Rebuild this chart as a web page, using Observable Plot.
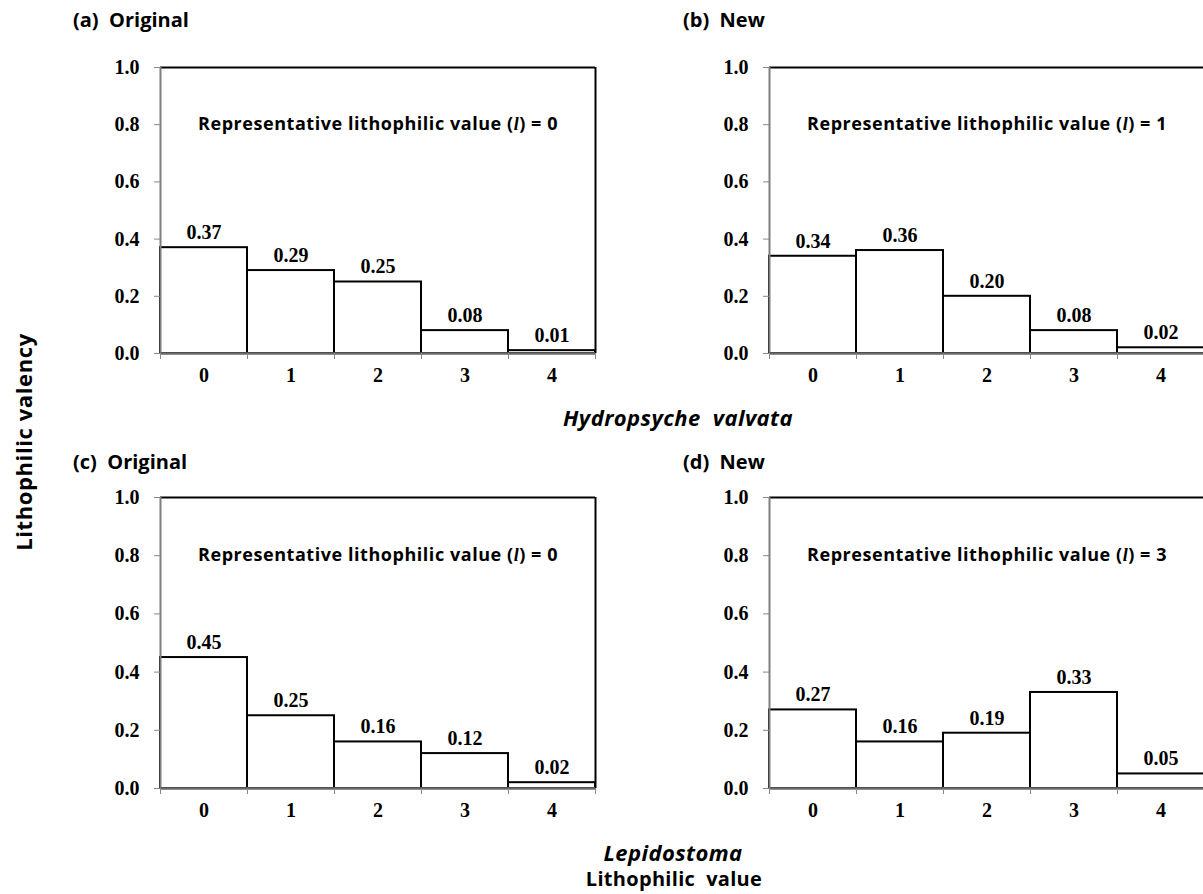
<!DOCTYPE html>
<html>
<head>
<meta charset="utf-8">
<script src="https://cdn.jsdelivr.net/npm/d3@7"></script>
<script src="https://cdn.jsdelivr.net/npm/@observablehq/plot@0.6"></script>
<style>
  html, body { margin: 0; padding: 0; background: white; overflow: hidden; }
  #fig { position: relative; width: 1203px; height: 894px; overflow: hidden; background: white; }
  .panel { position: absolute; }
  .lbl { position: absolute; font-family: 'Open Sans', 'Noto Sans', sans-serif; font-weight: bold; color: black; white-space: pre; line-height: 1; }
  .ctr { transform: translate(-50%, -50%); }
</style>
</head>
<body>
<div id="fig"></div>
<script>
// ---- data ----
const categories = [0, 1, 2, 3, 4];
const valuesA = [0.37, 0.29, 0.25, 0.08, 0.01];
const valuesB = [0.34, 0.36, 0.20, 0.08, 0.02];
const valuesC = [0.45, 0.25, 0.16, 0.12, 0.02];
const valuesD = [0.27, 0.16, 0.19, 0.33, 0.05];
const repValues = [0, 1, 0, 3];
const panelTitles = ["(a)  Original", "(b)  New", "(c)  Original", "(d)  New"];
const yTicks = [0, 0.2, 0.4, 0.6, 0.8, 1.0];
const species = ["Hydropsyche  valvata", "Lepidostoma"];
const yTitle = "Lithophilic valency";
const xTitle = "Lithophilic  value";

const fig = document.getElementById("fig");
const serif = "'Liberation Serif', 'Times New Roman', serif";
const sans = "'Open Sans', 'Noto Sans', sans-serif";

const boundaries = [...categories.map(c => c - 0.5), categories[categories.length - 1] + 0.5];

function panel(values, rep, plotH) {
  const data = categories.map((c, i) => ({c, v: values[i]}));
  const svg = Plot.plot({
    width: 60 + 435 + 12,
    height: 20 + plotH + 45,
    marginLeft: 60, marginRight: 12, marginTop: 20, marginBottom: 45,
    x: {domain: [boundaries[0], boundaries[boundaries.length - 1]]},
    y: {domain: [0, 1]},
    style: {fontFamily: serif, fontWeight: "bold", fontSize: "20px", background: "white", color: "black"},
    marks: [
      Plot.rect(data, {x1: d => d.c - 0.5, x2: d => d.c + 0.5, y1: 0, y2: "v", fill: "white", stroke: "black", strokeWidth: 2}),
      Plot.ruleY([1], {stroke: "black", strokeWidth: 2}),
      Plot.ruleX([boundaries[boundaries.length - 1]], {stroke: "black", strokeWidth: 2}),
      Plot.ruleX([boundaries[0]], {stroke: "#7f7f7f", strokeWidth: 2}),
      Plot.ruleY([0], {stroke: "#6a6a6a", strokeWidth: 2.5}),
      Plot.axisY({ticks: yTicks, tickFormat: d3.format(".1f"), tickSize: 6, tickPadding: 15, stroke: "#888", fill: "black", label: null, fontSize: 20}),
      Plot.axisX({ticks: boundaries, tickFormat: () => "", tickSize: 6, stroke: "#888", label: null}),
      Plot.axisX({ticks: categories, tickFormat: d => String(d), tickSize: 0, tickPadding: 14, fill: "black", label: null, fontSize: 20}),
      Plot.text(data, {x: "c", y: "v", text: d => d.v.toFixed(2), dy: -15, fill: "black", fontSize: 20}),
      Plot.text([`Representative lithophilic value (l) = ${rep}`], {x: 2, y: 0.8, fontFamily: sans, fontSize: 18, fontWeight: "bold", fill: "black"})
    ]
  });
  d3.select(svg).selectAll("text").filter(function() { return this.textContent.startsWith("Representative"); })
    .each(function() {
      const t = d3.select(this);
      t.text(null);
      t.style("letter-spacing", "0.55px");
      t.append("tspan").text("Representative lithophilic value (");
      t.append("tspan").attr("font-style", "italic").attr("font-family", serif).text("l");
      t.append("tspan").text(`) = ${rep}`);
    });
  return svg;
}

const layout = [
  {values: valuesA, left: 160, top: 67, h: 286, tx: 73, ty: 10},
  {values: valuesB, left: 769, top: 67, h: 286, tx: 683, ty: 10},
  {values: valuesC, left: 160, top: 497, h: 291, tx: 73, ty: 452},
  {values: valuesD, left: 769, top: 497, h: 291, tx: 683, ty: 452}
];

layout.forEach((p, i) => {
  const svg = panel(p.values, repValues[i], p.h);
  svg.classList.add("panel");
  svg.style.left = (p.left - 60) + "px";
  svg.style.top = (p.top - 20) + "px";
  fig.appendChild(svg);
  const t = document.createElement("div");
  t.className = "lbl";
  t.style.left = p.tx + "px";
  t.style.top = p.ty + "px";
  t.style.fontSize = "20px";
  t.textContent = panelTitles[i];
  fig.appendChild(t);
});

function label(text, x, y, size, extra) {
  const d = document.createElement("div");
  d.className = "lbl ctr";
  d.style.left = x + "px";
  d.style.top = y + "px";
  d.style.fontSize = size + "px";
  if (extra) Object.assign(d.style, extra);
  d.textContent = text;
  fig.appendChild(d);
  return d;
}
label(species[0], 678, 417, 22, {fontStyle: "italic", letterSpacing: "0.4px"});
label(species[1], 673, 852, 22, {fontStyle: "italic", letterSpacing: "0.4px"});
label(xTitle, 674, 879, 20, {letterSpacing: "0.3px"});
label(yTitle, 23, 442, 22, {letterSpacing: "0.6px", transform: "translate(-50%, -50%) rotate(-90deg)"});
</script>
</body>
</html>
